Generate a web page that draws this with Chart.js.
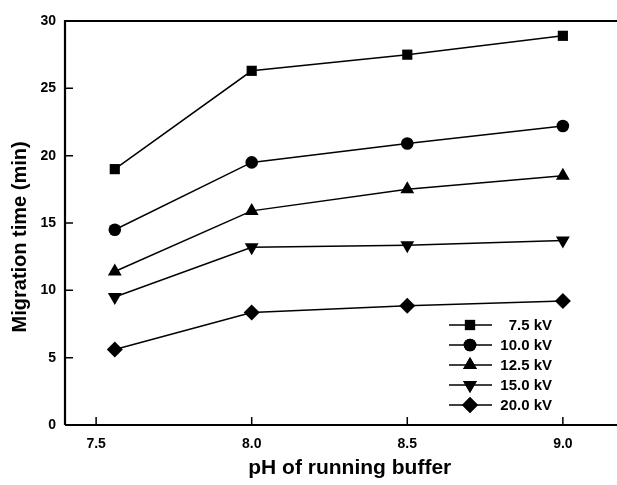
<!DOCTYPE html>
<html>
<head>
<meta charset="utf-8">
<script src="https://cdn.jsdelivr.net/npm/chart.js@4.4.1/dist/chart.umd.min.js"></script>
<style>
  html, body { margin: 0; padding: 0; background: #fff; overflow: hidden; }
  #wrap { width: 617px; height: 485px; }
</style>
</head>
<body>
<div id="wrap"><canvas id="grafico" width="617" height="485"></canvas></div>
<script>
// datos
const phValues = [7.56, 8.0, 8.5, 9.0];
const xTicks = [7.5, 8.0, 8.5, 9.0];
const yTicks = [0, 5, 10, 15, 20, 25, 30];
const seriesLabels = ["7.5 kV", "10.0 kV", "12.5 kV", "15.0 kV", "20.0 kV"];
const kv75 = [19.0, 26.3, 27.5, 28.9];
const kv100 = [14.5, 19.5, 20.9, 22.2];
const kv125 = [11.4, 15.9, 17.5, 18.5];
const kv150 = [9.5, 13.2, 13.35, 13.7];
const kv200 = [5.6, 8.35, 8.85, 9.2];

const FONT = "'Liberation Sans', Arial, sans-serif";
const estilos = [
  { pointStyle: "rect", pointRadius: 7.2 },
  { pointStyle: "circle", pointRadius: 6.3 },
  { pointStyle: "triangle", pointRadius: 8 },
  { pointStyle: "triangle", pointRadius: 8, rotation: 180 },
  { pointStyle: "rectRot", pointRadius: 8 },
];
const valores = [kv75, kv100, kv125, kv150, kv200];

const datasets = valores.map((v, i) => ({
  label: seriesLabels[i],
  data: phValues.map((x, j) => ({ x: x, y: v[j] })),
  borderColor: "#000",
  backgroundColor: "#000",
  borderWidth: 1.5,
  pointBorderWidth: 0,
  pointStyle: estilos[i].pointStyle,
  pointRadius: estilos[i].pointRadius,
  pointRotation: estilos[i].rotation || 0,
  tension: 0,
}));

// marco superior + marcas hacia dentro + leyenda interna
const marcoPlugin = {
  id: "marco",
  afterDatasetsDraw(chart) {
    const { ctx, chartArea: a, scales } = chart;
    ctx.save();
    ctx.strokeStyle = "#000";
    ctx.lineWidth = 2.2;
    ctx.beginPath();
    ctx.moveTo(a.left, a.bottom);
    ctx.lineTo(a.left, a.top);
    ctx.lineTo(a.right, a.top);
    ctx.moveTo(a.left, a.bottom);
    ctx.lineTo(a.right, a.bottom);
    ctx.stroke();

    ctx.lineWidth = 1.5;
    ctx.beginPath();
    xTicks.forEach((t) => {
      const x = scales.x.getPixelForValue(t);
      ctx.moveTo(x, a.bottom);
      ctx.lineTo(x, a.bottom - 8);
    });
    yTicks.forEach((t) => {
      const y = scales.y.getPixelForValue(t);
      ctx.moveTo(a.left, y);
      ctx.lineTo(a.left + 8, y);
    });
    ctx.stroke();

    // leyenda
    ctx.font = "bold 15px " + FONT;
    ctx.textAlign = "right";
    ctx.textBaseline = "middle";
    ctx.fillStyle = "#000";
    chart.data.datasets.forEach((ds, i) => {
      const y = 325 + i * 20;
      ctx.lineWidth = 1.5;
      ctx.beginPath();
      ctx.moveTo(449, y);
      ctx.lineTo(492, y);
      ctx.stroke();
      Chart.helpers.drawPoint(ctx, {
        pointStyle: ds.pointStyle,
        radius: ds.pointRadius,
        rotation: ds.pointRotation,
        borderWidth: 0,
      }, 470, y);
      ctx.fill();
      ctx.fillText(ds.label, 552, y + 1);
    });
    ctx.restore();
  },
};

new Chart(document.getElementById("grafico"), {
  type: "line",
  data: { datasets: datasets },
  options: {
    responsive: false,
    animation: false,
    layout: { autoPadding: false, padding: { top: 21, right: 0, bottom: 0, left: 0 } },
    plugins: { legend: { display: false }, tooltip: { enabled: false } },
    scales: {
      x: {
        type: "linear",
        min: 7.4,
        max: 9.174,
        afterBuildTicks: (s) => { s.ticks = xTicks.map((v) => ({ value: v })); },
        afterFit: (s) => {
          s.height = 60;
          s.paddingLeft = 0;
          s.paddingRight = 0;
        },
        grid: { display: false, drawTicks: false },
        border: { display: false },
        ticks: {
          color: "#000",
          padding: 11,
          font: { family: FONT, size: 14, weight: "bold" },
          callback: (v) => v.toFixed(1),
        },
        title: {
          display: true,
          text: "\u00a0\u00a0\u00a0pH of running buffer",
          color: "#000",
          padding: { top: 0, bottom: 4 },
          font: { family: FONT, size: 21, weight: "bold" },
        },
      },
      y: {
        min: 0,
        max: 30,
        afterBuildTicks: (s) => { s.ticks = yTicks.map((v) => ({ value: v })); },
        afterFit: (s) => {
          s.width = 65;
          s.paddingTop = 0;
          s.paddingBottom = 0;
        },
        grid: { display: false, drawTicks: false },
        border: { display: false },
        ticks: {
          color: "#000",
          padding: 9,
          font: { family: FONT, size: 14, weight: "bold" },
        },
        title: {
          display: true,
          text: "Migration time (min)\u00a0\u00a0\u00a0\u00a0\u00a0",
          color: "#000",
          padding: { top: 8, bottom: 0 },
          font: { family: FONT, size: 20, weight: "bold" },
        },
      },
    },
  },
  plugins: [marcoPlugin],
});
</script>
</body>
</html>
